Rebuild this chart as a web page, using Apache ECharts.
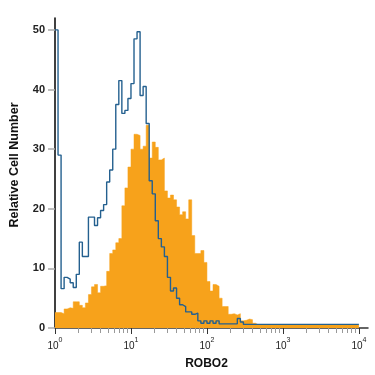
<!DOCTYPE html>
<html><head><meta charset="utf-8">
<script src="https://cdn.jsdelivr.net/npm/echarts@6/dist/echarts.min.js"></script>
<style>html,body{margin:0;padding:0;background:#fff}#c{width:375px;height:375px}</style>
</head><body><div id="c"></div>
<script>
// Histogram channels: bins of 0.04 decade starting at 10^0
const decadeExponents = ['0', '1', '2', '3', '4'];
const yTickValues = [0, 10, 20, 30, 40, 50];
const binWidthDecades = 0.04;
// Orange filled histogram (ROBO2 antibody)
const orangeCounts = [
  2.6, 2.6, 2.4, 3.2, 3.4, 3.3, 4.4, 4.4, 3.8, 3.4,
  4.2, 5.6, 6.9, 7.3, 5.9, 7.0, 7.1, 9.5, 12.5, 13.1,
  14.3, 15, 20.5, 23.5, 27, 30, 32.5, 32.3, 30, 30.5,
  34, 28.5, 31.2, 30.3, 28.2, 28.5, 23, 21.8, 22.3, 21.5,
  20.3, 19, 19.5, 18.3, 21.5, 15.5, 12.5, 12.5, 13, 11,
  7.8, 6.2, 7.3, 7, 5, 3.6, 3.6, 2.3, 2.4, 2.2,
  2.4, 1.2, 1.3, 1.5, 1.4, 0.8, 0.5, 0.5, 0.5, 0.5,
  0.5, 0.5, 0.5, 0.5, 0.5, 0.5, 0.5, 0.5, 0.5, 0.5,
  0.5, 0.5, 0.5, 0.5, 0.5, 0.5, 0.5, 0.5, 0.5, 0.5,
  0.5, 0.5, 0.5, 0.5, 0.5, 0.5, 0.5, 0.5, 0.5, 0.5
];
// Blue outline histogram (control)
const blueCounts = [
  50, 29, 6.6, 8.5, 8.2, 7.6, 6.8, 9, 14.4, 12,
  12, 18.6, 18.6, 17.2, 18.5, 19.7, 20.7, 24.5, 26.5, 30,
  37.5, 41.5, 36, 36.5, 38.5, 41, 48.5, 49.7, 39, 40.5,
  34.3, 24.7, 22.5, 18, 15, 13.6, 12, 8.5, 6.2, 6.7,
  5, 3.9, 3.6, 2.7, 2.7, 2.3, 2.5, 1.2, 0.8, 1.2,
  0.8, 1.2, 0.8, 1.2, 0.7, 0.7, 0.7, 0.7, 0.7, 0.7,
  1.6, 1.0, 0.6, 0.6, 0.6, 0.6, 0.6, 0.6, 0.6, 0.6,
  0.6, 0.6, 0.6, 0.6, 0.6, 0.6, 0.6, 0.6, 0.6, 0.6,
  0.6, 0.6, 0.6, 0.6, 0.6, 0.6, 0.6, 0.6, 0.6, 0.6,
  0.6, 0.6, 0.6, 0.6, 0.6, 0.6, 0.6, 0.6, 0.6, 0.6
];

function stepData(counts) {
  const d = counts.map((v, i) => [i * binWidthDecades, v]);
  d.push([counts.length * binWidthDecades, counts[counts.length - 1]]);
  return d;
}
const majorTicks = decadeExponents.map((e, i) => i);
const minorTicks = [];
for (let d = 0; d < 4; d++) for (let k = 2; k <= 9; k++) minorTicks.push(d + Math.log10(k));

const FONT = '"Liberation Sans", Arial, sans-serif';
const chart = echarts.init(document.getElementById('c'), null, {renderer: 'canvas'});
chart.setOption({
  animation: false,
  backgroundColor: '#fff',
  grid: {left: 55, right: 7, top: 18, bottom: 47},
  xAxis: [{
    type: 'value', min: 0, max: 4.12,
    axisLine: {lineStyle: {color: '#333', width: 1.5}},
    axisTick: {customValues: majorTicks, length: 6, lineStyle: {color: '#333', width: 1}},
    axisLabel: {
      customValues: majorTicks, margin: 9,
      formatter: v => '{b|10}{s|' + decadeExponents[Math.round(v)] + '}',
      rich: {
        b: {fontFamily: FONT, fontSize: 10, color: '#222', lineHeight: 14, verticalAlign: 'bottom'},
        s: {fontFamily: FONT, fontSize: 7, color: '#222', lineHeight: 14, verticalAlign: 'top'}
      }
    },
    splitLine: {show: false},
    name: 'ROBO2', nameLocation: 'middle', nameGap: 30,
    nameTextStyle: {fontFamily: FONT, fontSize: 12, fontWeight: 'bold', color: '#111', padding: [0, 10, 0, 0]}
  }, {
    type: 'value', min: 0, max: 4.12, position: 'bottom',
    axisLine: {show: false},
    axisTick: {customValues: minorTicks, length: 5, lineStyle: {color: '#999', width: 1}},
    axisLabel: {show: false},
    splitLine: {show: false}
  }],
  yAxis: {
    type: 'value', min: 0, max: 52,
    axisLine: {show: true, lineStyle: {color: '#000', width: 1.5}},
    axisTick: {show: true, customValues: yTickValues, length: 7, lineStyle: {color: '#aaa', width: 1.5}},
    axisLabel: {customValues: yTickValues, margin: 10, fontFamily: FONT, fontSize: 11, fontWeight: 'bold', color: '#222'},
    splitLine: {show: false},
    name: 'Relative Cell Number', nameLocation: 'middle', nameGap: 34, nameRotate: 90,
    nameTextStyle: {fontFamily: FONT, fontSize: 12.5, fontWeight: 'bold', color: '#111', padding: [0, 0, 0, 16]}
  },
  series: [{
    type: 'line', step: 'end', data: stepData(orangeCounts), symbol: 'none',
    lineStyle: {width: 0.5, color: '#F7A21B'},
    areaStyle: {color: '#F7A21B', opacity: 1, origin: 'start'},
    z: 2
  }, {
    type: 'line', step: 'end', data: stepData(blueCounts), symbol: 'none',
    lineStyle: {width: 1.4, color: '#24608f'},
    z: 3
  }]
});
</script></body></html>
